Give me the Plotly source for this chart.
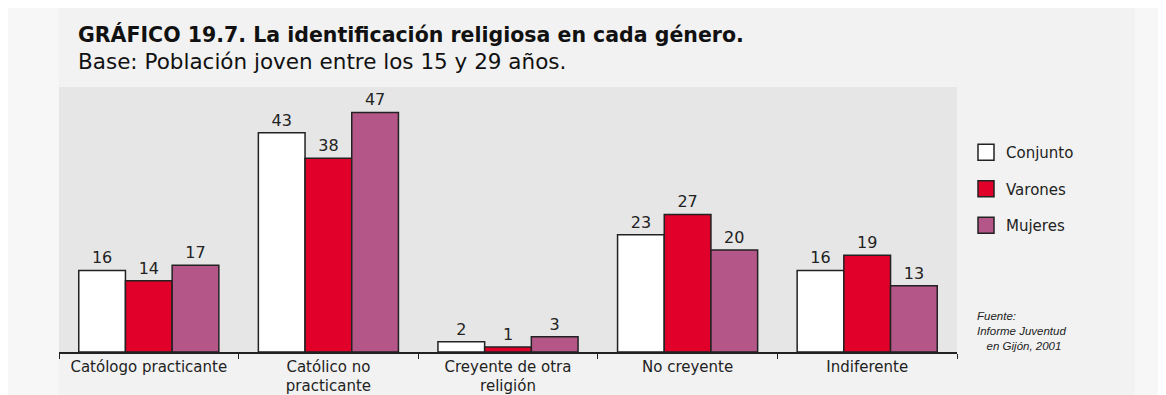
import plotly.graph_objects as go

categories = ["Católogo practicante", "Católico no<br>practicante", "Creyente de otra<br>religión",
              "No creyente", "Indiferente"]
series_names = ["Conjunto", "Varones", "Mujeres"]
conjunto = [16, 43, 2, 23, 16]
varones = [14, 38, 1, 27, 19]
mujeres = [17, 47, 3, 20, 13]
colors = ["#ffffff", "#e0002a", "#b55688"]

FONT = "DejaVu Sans"
OFF = 8  # page body margin
W, H = 1166 - OFF, 395 - OFF
L, R, T, B = 59 - OFF, 209, 87 - OFF, 43
PW, PH = W - L - R, H - T - B


def px(x):
    return (x - OFF - L) / PW


def py(y):
    return (H - B - (y - OFF)) / PH


fig = go.Figure()
for name, vals, col in zip(series_names, [conjunto, varones, mujeres], colors):
    fig.add_trace(go.Bar(
        x=categories, y=vals, name=name, showlegend=False,
        marker=dict(color=col, line=dict(color="#222222", width=1.5)),
        text=[str(v) for v in vals], textposition="outside",
        textfont=dict(family=FONT, size=16, color="#222222"),
        cliponaxis=False,
    ))
    fig.add_trace(go.Scatter(
        x=[None], y=[None], mode="markers", name=name, legendgroup=name,
        marker=dict(symbol="square", size=16, color=col, line=dict(color="#222222", width=1.5)),
    ))

fig.update_layout(
    width=W, height=H,
    margin=dict(l=L, r=R, t=T, b=B, autoexpand=False),
    paper_bgcolor="#f7f7f7",
    plot_bgcolor="rgba(0,0,0,0)",
    barmode="group", bargap=0.22, bargroupgap=0,
    font=dict(family=FONT, color="#222222"),
    showlegend=True,
    legend=dict(x=px(966), y=py(136), xanchor="left", yanchor="top",
                font=dict(family=FONT, size=15, color="#222222"),
                bgcolor="rgba(0,0,0,0)", tracegroupgap=14, itemsizing="trace"),
    xaxis=dict(showline=True, linecolor="#222222", linewidth=1.5,
               ticks="outside", tickson="boundaries", ticklen=5, tickcolor="#222222",
               tickfont=dict(family=FONT, size=15, color="#222222"),
               showgrid=False, fixedrange=True),
    yaxis=dict(range=[0, 52], visible=False, showgrid=False, zeroline=False),
    shapes=[
        dict(type="rect", xref="paper", yref="paper", x0=0, x1=px(1135), y0=py(400), y1=py(5),
             fillcolor="#f2f2f2", line=dict(width=0), layer="below"),
        dict(type="rect", xref="paper", yref="paper", x0=0, x1=1, y0=0, y1=1,
             fillcolor="#e6e6e6", line=dict(width=0), layer="below"),
    ],
    annotations=[
        dict(text="<b>GRÁFICO 19.7. La identificación religiosa en cada género.</b>",
             xref="paper", yref="paper", x=px(76), y=py(34), xanchor="left", yanchor="middle",
             showarrow=False, font=dict(family=FONT, size=20.5, color="#111111")),
        dict(text="Base: Población joven entre los 15 y 29 años.",
             xref="paper", yref="paper", x=px(76), y=py(61), xanchor="left", yanchor="middle",
             showarrow=False, font=dict(family=FONT, size=21.5, color="#111111")),
        dict(text="<i>Fuente:<br>Informe Juventud<br>   en Gijón, 2001</i>",
             xref="paper", yref="paper", x=px(975), y=py(308), xanchor="left", yanchor="top",
             align="left", showarrow=False,
             font=dict(family="Liberation Sans", size=11.5, color="#222222")),
    ],
)

fig.write_html("out.html")
